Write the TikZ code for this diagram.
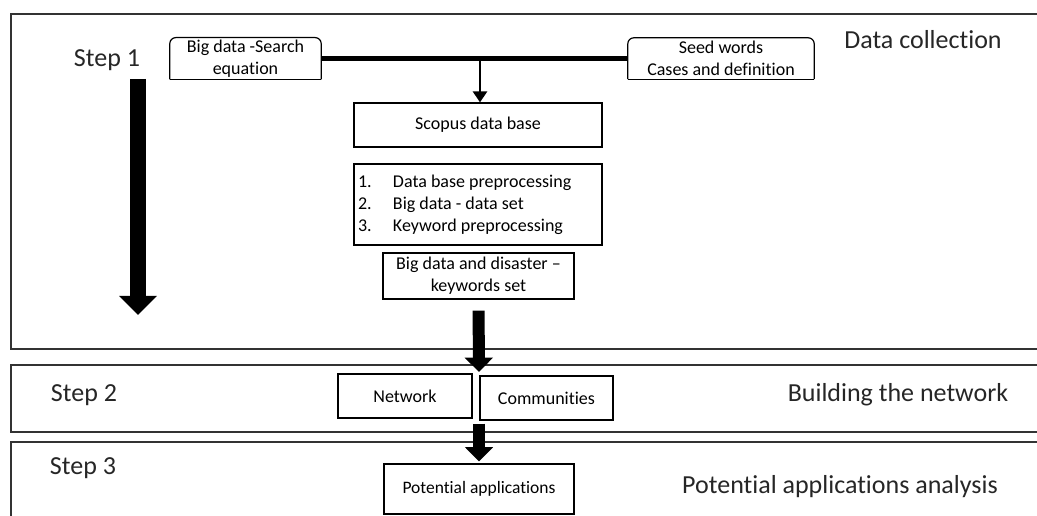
\documentclass[tikz,border=0pt]{standalone}
\usepackage{fontspec}
\setmainfont{Carlito}[Ligatures=CommonOff]
\usetikzlibrary{arrows.meta,positioning}

\tikzset{
  box/.style={draw, line width=1.2pt, align=center, inner sep=2pt, font=\fontsize{18}{22}\selectfont},
  tabbox/.style={align=center, inner sep=2pt, font=\fontsize{18}{22}\selectfont},
  panel/.style={line width=1.3pt, draw=black!80},
  title/.style={font=\fontsize{26}{30}\selectfont, text=black!85},
  blockarrow/.style={line width=#1, -{Triangle[width=2.3*#1, length=1.2*#1]}},
}

\begin{document}
\begin{tikzpicture}[x=1pt, y=-1pt]

  \useasboundingbox (0,0) rectangle (1037,516);

  % the three panels, cut off at the right edge
  \draw[panel] (1037,14) -- (11,14) -- (11,349) -- (1037,349);
  \draw[panel] (1037,365) -- (11,365) -- (11,432) -- (1037,432);
  \draw[panel] (1037,442) -- (11,442) -- (11,516);

  \node[title] (s1) at (107,60) {Step 1};
  \node[title] (s2) at (84,395) {Step 2};
  \node[title] (s3) at (83,468) {Step 3};
  \node[title] (t1) at (923,40) {Data collection};
  \node[title] (t2) at (898,395) {Building the network};
  \node[title] (t3) at (840,487) {Potential applications analysis};

  \draw[blockarrow=16pt] (138,79) -- (138,315);

  \node[tabbox, minimum width=151pt, minimum height=41pt] (search) at (245.5,58.5) {Big data -Search\\equation};
  \node[tabbox, minimum width=186pt, minimum height=41pt] (seed) at (721,58.5) {Seed words\\Cases and definition};
  \draw[line width=1.2pt, rounded corners=6pt] (search.south west) -- (search.north west) -- (search.north east) -- (search.south east);
  \draw[line width=1.2pt] (search.south west) -- (search.south east);
  \draw[line width=1.2pt, rounded corners=6pt] (seed.south west) -- (seed.north west) -- (seed.north east) -- (seed.south east);
  \draw[line width=1.2pt] (seed.south west) -- (seed.south east);

  \node[box, minimum width=248pt, minimum height=44pt] (scopus) at (478,125) {Scopus data base};
  \node[box, minimum width=248pt, minimum height=81pt, text width=240pt, align=flush left, inner xsep=4pt] (prep) at (478,204.5)
    {\makebox[35pt][l]{1.}Data base preprocessing\\\makebox[35pt][l]{2.}Big data - data set\\\makebox[35pt][l]{3.}Keyword preprocessing};
  \node[box, minimum width=191pt, minimum height=46pt] (kw) at (478.5,276) {Big data and disaster --\\keywords set};

  \node[box, minimum width=134pt, minimum height=44pt] (net) at (405,396) {Network};
  \node[box, minimum width=133pt, minimum height=44pt] (comm) at (546.5,398) {Communities};
  \node[box, minimum width=190pt, minimum height=50pt, font=\fontsize{17.5}{21}\selectfont] (apps) at (479,489) {Potential applications};

  \coordinate (junction) at (480,58.5);
  \coordinate (split) at (479,372);

  \draw[line width=4.5pt] (search.east) -- (seed.west);
  \draw[line width=2.5pt, -{Triangle[width=14pt, length=11pt]}] (junction) -- (junction |- scopus.north);
  \draw[blockarrow=12pt, shorten <=11pt] (kw.south) -- (split);
  \draw[blockarrow=12pt, shorten <=3pt, shorten >=2pt] (split |- comm.south) -- (apps.north);

\end{tikzpicture}
\end{document}
